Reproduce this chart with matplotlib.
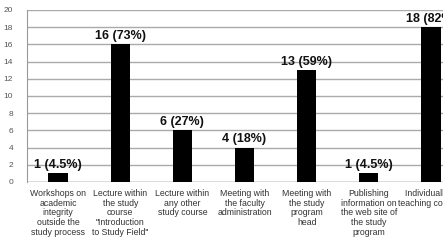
import matplotlib
matplotlib.use("Agg")
import matplotlib.pyplot as plt

plt.rcParams['font.family'] = ['Liberation Sans', 'DejaVu Sans']

# data
categories = [
    "Workshops on\nacademic\nintegrity\noutside the\nstudy process",
    "Lecture within\nthe study\ncourse\n\"Introduction\nto Study Field\"",
    "Lecture within\nany other\nstudy course",
    "Meeting with\nthe faculty\nadministration",
    "Meeting with\nthe study\nprogram\nhead",
    "Publishing\ninformation on\nthe web site of\nthe study\nprogram",
    "Individually in\nteaching courses",
]
counts = [1, 16, 6, 4, 13, 1, 18]
percents = ["4.5", "73", "27", "18", "59", "4.5", "82"]
yticks = [0, 2, 4, 6, 8, 10, 12, 14, 16, 18, 20]

fig = plt.figure(figsize=(4.43, 2.41), dpi=100)
# axes run past the right edge, the reference is cropped there
ax = fig.add_axes([27 / 443, 1 - 182 / 241, 435 / 443, 172 / 241])

x = range(len(categories))
ax.bar(x, counts, width=0.31, color='black', zorder=3)

for i, (c, p) in enumerate(zip(counts, percents)):
    ax.text(i, c + 0.25, f"{c} ({p}%)", ha='center', va='bottom',
            fontsize=9, fontweight='bold', color='#111111', zorder=4)

ax.set_xlim(-0.5, len(categories) - 0.5)
ax.set_ylim(0, 20)
ax.set_yticks(yticks)
ax.set_yticklabels([str(t) for t in yticks])
ax.set_xticks(list(x))
ax.set_xticklabels(categories, fontsize=6.3, linespacing=1.1, color='#333333')

ax.tick_params(axis='y', length=0, pad=10, labelsize=6, labelcolor='#555555')
ax.tick_params(axis='x', length=0, pad=5)

ax.yaxis.grid(True, color='#aaaaaa', linewidth=1.0, zorder=0)
for side in ['top', 'right', 'bottom']:
    ax.spines[side].set_visible(False)
ax.spines['left'].set_color('#999999')
ax.axhline(0, color='#999999', linewidth=1.0, zorder=2)

fig.savefig("out.png", dpi=100)
